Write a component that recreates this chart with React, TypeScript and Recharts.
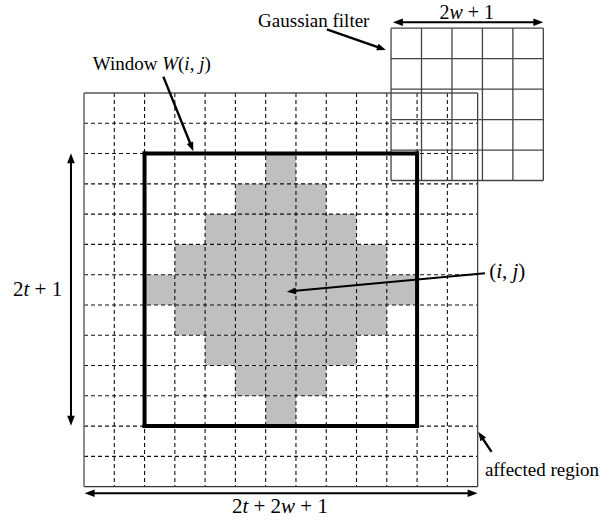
import React from 'react';
import { ComposedChart, XAxis, YAxis, ReferenceArea, ReferenceLine, ReferenceDot } from 'recharts';

// ---- data (grid units: one cell of the affected region = 1) ----
const regionSize = 13; // 2t + 2w + 1
const gridLines = [1, 2, 3, 4, 5, 6, 7, 8, 9, 10, 11, 12];
const windowBox = { start: 2, end: 11 }; // 2t + 1 = 9
// gray diamond rows: row index, first column, last column (exclusive)
const diamondRows = [
  { row: 2, from: 6, to: 7 },
  { row: 3, from: 5, to: 8 },
  { row: 4, from: 4, to: 9 },
  { row: 5, from: 3, to: 10 },
  { row: 6, from: 2, to: 11 },
  { row: 7, from: 3, to: 10 },
  { row: 8, from: 4, to: 9 },
  { row: 9, from: 5, to: 8 },
  { row: 10, from: 6, to: 7 },
];
const filterCells = 5; // 2w + 1
const filterOrigin = { x: 10.14, y: -2.14, cell: 1.006 };
const filterLineIdx = [0, 1, 2, 3, 4, 5];

const arrows = [
  { id: 'gauss', from: { x: 8.02, y: -2.1 }, to: { x: 9.97, y: -1.42 }, double: false, w: 2.4, head: 9 },
  { id: 'filterWidth', from: { x: 10.2, y: -2.335 }, to: { x: 15.17, y: -2.335 }, double: true, w: 2, head: 10 },
  { id: 'window', from: { x: 2.62, y: -0.54 }, to: { x: 3.61, y: 1.92 }, double: false, w: 2.4, head: 9 },
  { id: 'height', from: { x: -0.43, y: 1.99 }, to: { x: -0.43, y: 10.99 }, double: true, w: 2, head: 10 },
  { id: 'width', from: { x: 0.02, y: 13.22 }, to: { x: 13.0, y: 13.22 }, double: true, w: 2, head: 10 },
  { id: 'affected', from: { x: 13.46, y: 11.85 }, to: { x: 13.02, y: 11.19 }, double: false, w: 2.4, head: 9 },
  { id: 'center', from: { x: 13.24, y: 5.95 }, to: { x: 6.7, y: 6.56 }, double: false, w: 2, head: 9 },
];

type Part = { t: string; i?: boolean };
const labels: { id: string; x: number; y: number; anchor: string; size: number; parts: Part[] }[] = [
  { id: 'gauss', x: 5.75, y: -2.18, anchor: 'start', size: 19, parts: [{ t: 'Gaussian filter' }] },
  { id: 'fw', x: 12.64, y: -2.45, anchor: 'middle', size: 20, parts: [{ t: '2' }, { t: 'w', i: true }, { t: ' + 1' }] },
  { id: 'win', x: 0.29, y: -0.76, anchor: 'start', size: 19, parts: [{ t: 'Window ' }, { t: 'W', i: true }, { t: '(' }, { t: 'i', i: true }, { t: ', ' }, { t: 'j', i: true }, { t: ')' }] },
  { id: 'h', x: -2.345, y: 6.7, anchor: 'start', size: 21, parts: [{ t: '2' }, { t: 't', i: true }, { t: ' + 1' }] },
  { id: 'ij', x: 13.38, y: 6.11, anchor: 'start', size: 21, parts: [{ t: '(' }, { t: 'i', i: true }, { t: ', ' }, { t: 'j', i: true }, { t: ')' }] },
  { id: 'aff', x: 13.24, y: 12.65, anchor: 'start', size: 19, parts: [{ t: 'affected region' }] },
  { id: 'wd', x: 6.47, y: 13.87, anchor: 'middle', size: 21, parts: [{ t: '2' }, { t: 't', i: true }, { t: ' + 2' }, { t: 'w', i: true }, { t: ' + 1' }] },
];

const W = 607;
const H = 521;
const X_DOMAIN: [number, number] = [-84 / 30.28, (W - 84) / 30.28];
const Y_DOMAIN: [number, number] = [-93 / 30.28, (H - 93) / 30.28];
const FONT = '"Liberation Serif", "Times New Roman", serif';

const makeArrow = (double: boolean, width: number, head: number) => (props: any) => {
  const { x1, y1, x2, y2 } = props;
  const dx = x2 - x1;
  const dy = y2 - y1;
  const len = Math.hypot(dx, dy) || 1;
  const ux = dx / len;
  const uy = dy / len;
  const hw = head * 0.38;
  const poly = (tx: number, ty: number, ax: number, ay: number) => {
    const bx = tx - ax * head;
    const by = ty - ay * head;
    return `${tx},${ty} ${bx - ay * hw},${by + ax * hw} ${bx + ay * hw},${by - ax * hw}`;
  };
  const sx = double ? x1 + ux * head * 0.7 : x1;
  const sy = double ? y1 + uy * head * 0.7 : y1;
  const ex = x2 - ux * head * 0.7;
  const ey = y2 - uy * head * 0.7;
  return (
    <g>
      <line x1={sx} y1={sy} x2={ex} y2={ey} stroke="#000" strokeWidth={width} />
      <polygon points={poly(x2, y2, ux, uy)} fill="#000" />
      {double && <polygon points={poly(x1, y1, -ux, -uy)} fill="#000" />}
    </g>
  );
};

const makeText = (parts: Part[], anchor: string, size: number) => (props: any) => (
  <text x={props.cx} y={props.cy} textAnchor={anchor as any} fontFamily={FONT} fontSize={size} fill="#000">
    {parts.map((p, k) => (
      <tspan key={k} fontStyle={p.i ? 'italic' : 'normal'}>{p.t}</tspan>
    ))}
  </text>
);

export default function App() {
  const fx = (k: number) => filterOrigin.x + k * filterOrigin.cell;
  const fy = (k: number) => filterOrigin.y + k * filterOrigin.cell;
  return (
    <div style={{ position: 'absolute', left: 0, top: 0, width: W, height: H, background: '#fff' }}>
      <ComposedChart width={W} height={H} data={[]} margin={{ top: 0, right: 0, bottom: 0, left: 0 }}>
        <XAxis type="number" dataKey="x" hide domain={X_DOMAIN} allowDataOverflow />
        <YAxis type="number" dataKey="y" hide domain={Y_DOMAIN} reversed allowDataOverflow />

        {diamondRows.map((r) => (
          <ReferenceArea key={'d' + r.row} x1={r.from} x2={r.to} y1={r.row} y2={r.row + 1}
            fill="#bfbfbf" fillOpacity={1} stroke="none" ifOverflow="visible" />
        ))}

        {gridLines.map((k) => (
          <ReferenceLine key={'v' + k} segment={[{ x: k, y: 0 }, { x: k, y: regionSize }]}
            stroke="#111" strokeWidth={1.1} strokeDasharray="4 3" ifOverflow="visible" />
        ))}
        {gridLines.map((k) => (
          <ReferenceLine key={'h' + k} segment={[{ x: 0, y: k }, { x: regionSize, y: k }]}
            stroke="#111" strokeWidth={1.1} strokeDasharray="4 3" ifOverflow="visible" />
        ))}

        <ReferenceLine segment={[{ x: 0, y: 0 }, { x: regionSize, y: 0 }]} stroke="#555" strokeWidth={1.3} ifOverflow="visible" />
        <ReferenceLine segment={[{ x: 0, y: regionSize }, { x: regionSize, y: regionSize }]} stroke="#333" strokeWidth={1.3} ifOverflow="visible" />
        <ReferenceLine segment={[{ x: 0, y: 0 }, { x: 0, y: regionSize }]} stroke="#666" strokeWidth={1.5} ifOverflow="visible" />
        <ReferenceLine segment={[{ x: regionSize, y: 0 }, { x: regionSize, y: regionSize }]} stroke="#444" strokeWidth={1.3} ifOverflow="visible" />

        {filterLineIdx.map((k) => (
          <ReferenceLine key={'fv' + k} segment={[{ x: fx(k), y: fy(0) }, { x: fx(k), y: fy(filterCells) }]}
            stroke="#444" strokeWidth={1.3} ifOverflow="visible" />
        ))}
        {filterLineIdx.map((k) => (
          <ReferenceLine key={'fh' + k} segment={[{ x: fx(0), y: fy(k) }, { x: fx(filterCells), y: fy(k) }]}
            stroke="#444" strokeWidth={1.3} ifOverflow="visible" />
        ))}

        <ReferenceLine segment={[{ x: windowBox.start, y: windowBox.start }, { x: windowBox.end, y: windowBox.start }]} stroke="#000" strokeWidth={4} strokeLinecap="square" ifOverflow="visible" />
        <ReferenceLine segment={[{ x: windowBox.start, y: windowBox.end }, { x: windowBox.end, y: windowBox.end }]} stroke="#000" strokeWidth={4} strokeLinecap="square" ifOverflow="visible" />
        <ReferenceLine segment={[{ x: windowBox.start, y: windowBox.start }, { x: windowBox.start, y: windowBox.end }]} stroke="#000" strokeWidth={4} strokeLinecap="square" ifOverflow="visible" />
        <ReferenceLine segment={[{ x: windowBox.end, y: windowBox.start }, { x: windowBox.end, y: windowBox.end }]} stroke="#000" strokeWidth={4} strokeLinecap="square" ifOverflow="visible" />

        {arrows.map((a) => (
          <ReferenceLine key={'a' + a.id} segment={[a.from, a.to]} ifOverflow="visible"
            shape={makeArrow(a.double, a.w, a.head)} />
        ))}

        {labels.map((l) => (
          <ReferenceDot key={'l' + l.id} x={l.x} y={l.y} r={0} ifOverflow="visible"
            shape={makeText(l.parts, l.anchor, l.size)} />
        ))}
      </ComposedChart>
    </div>
  );
}
